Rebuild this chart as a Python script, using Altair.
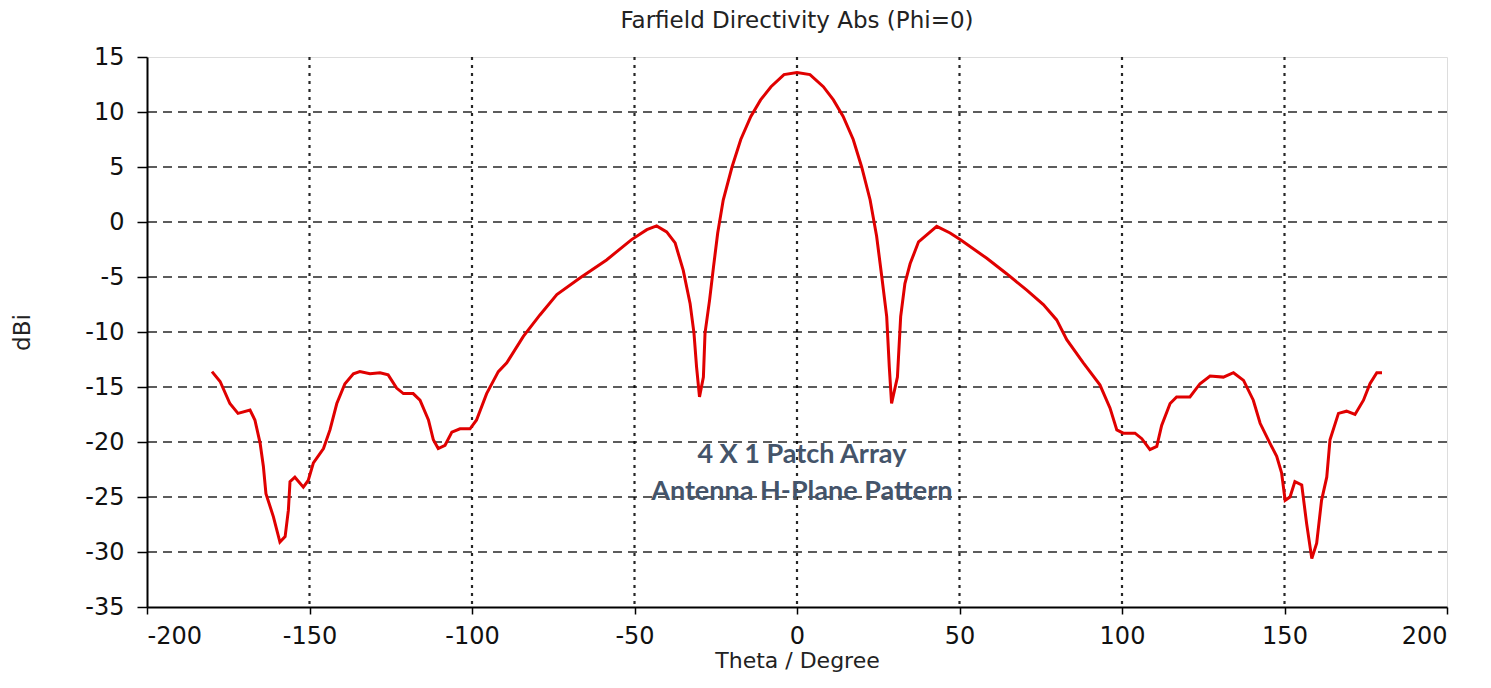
import altair as alt
import pandas as pd

theta = [-180, -177.5, -174.5, -172, -168.3, -166.8, -165.2, -164.2, -163.4, -161.1, -159.1, -157.5,
         -156.5, -156, -154.5, -151.9, -150.4, -148.8, -145.7, -143.7, -141.6, -139.1, -136.5, -134.5,
         -131.4, -128.3, -125.8, -123.2, -121.1, -118.1, -116, -113.4, -111.9, -110.4, -108.3, -106.2,
         -103.7, -100.6, -98.6, -95.5, -91.9, -89.3, -84.2, -79.1, -73.9, -66.8, -58.6, -50.9, -46.2,
         -43.2, -40.1, -37.5, -35, -32.9, -31.7, -30.9, -30, -28.8, -28.3, -26.9, -25.7, -24.4, -22.7,
         -20, -17.3, -14.2, -11.2, -8, -4, 0, 4, 8.1, 11.2, 14.2, 17.3, 19.9, 22.5, 24.5, 26.1, 27.6,
         28.4, 29.1, 30.9, 31.9, 33.2, 34.8, 37.4, 43, 47.1, 50.2, 58.4, 64.5, 70.7, 75.8, 79.9, 83,
         88.1, 93.2, 96.3, 98.4, 100.4, 104, 106.1, 108.6, 110.7, 112.2, 114.8, 116.8, 120.9, 124,
         127.1, 131.2, 134.3, 137.4, 140.4, 142.5, 145.5, 147.6, 149.1, 150.2, 151.7, 153.2, 155.3,
         156.8, 158.4, 159.9, 161.4, 163, 164, 166.6, 169.1, 171.7, 174.3, 176.3, 178.4, 180]
dbi = [-13.6, -14.5, -16.5, -17.4, -17.1, -18.0, -20.1, -22.2, -24.7, -26.8, -29.1, -28.6,
       -26.2, -23.6, -23.2, -24.1, -23.5, -21.9, -20.6, -18.9, -16.5, -14.7, -13.8, -13.6,
       -13.8, -13.7, -13.9, -15.1, -15.6, -15.6, -16.2, -18.0, -19.8, -20.6, -20.3, -19.1,
       -18.8, -18.8, -18.0, -15.6, -13.6, -12.8, -10.4, -8.45, -6.6, -5.1, -3.45, -1.6, -0.7,
       -0.36, -0.9, -1.9, -4.4, -7.4, -10.1, -13.2, -15.9, -14.1, -10.1, -7.1, -4.1, -1.0, 2.0,
       5.0, 7.5, 9.6, 11.1, 12.3, 13.4, 13.6, 13.4, 12.3, 11.1, 9.6, 7.5, 5.0, 2.0, -1.3, -5.0, -8.6,
       -13.2, -16.5, -14.1, -8.6, -5.6, -3.8, -1.8, -0.4, -1.0, -1.6, -3.3, -4.7, -6.2, -7.5, -8.9, -10.7,
       -12.8, -14.8, -16.9, -18.9, -19.2, -19.2, -19.7, -20.7, -20.4, -18.5, -16.5, -15.9, -15.9, -14.7,
       -14.0, -14.1, -13.7, -14.4, -16.2, -18.3, -20.1, -21.3, -22.8, -25.3, -25.0, -23.6, -23.9,
       -27.4, -30.6, -29.2, -25.3, -23.2, -19.8, -17.4, -17.2, -17.5, -16.2, -14.7, -13.7, -13.7]

note_lines = ["4 X 1 Patch Array", "Antenna H-Plane Pattern"]
note_theta = [1.5, 1.5]
note_dbi = [-21.2, -24.5]

x_ticks = [-200, -150, -100, -50, 0, 50, 100, 150, 200]
y_ticks = [15, 10, 5, 0, -5, -10, -15, -20, -25, -30, -35]

df = pd.DataFrame({"theta": theta, "dbi": dbi})
notes = pd.DataFrame({"theta": note_theta, "dbi": note_dbi, "txt": note_lines})

FONT = "DejaVu Sans"
xscale = alt.Scale(domain=[-200, 200], nice=False, zero=False)
yscale = alt.Scale(domain=[-35, 15], nice=False, zero=False)

xgrid = alt.Chart(pd.DataFrame({"v": x_ticks[1:-1]})).mark_rule(
    color="black", strokeDash=[3, 5], strokeWidth=2.2, opacity=0.85
).encode(x=alt.X("v:Q", scale=xscale))

ygrid = alt.Chart(pd.DataFrame({"v": y_ticks[1:-1]})).mark_rule(
    color="black", strokeDash=[9, 6], strokeWidth=1.7, opacity=0.85
).encode(y=alt.Y("v:Q", scale=yscale))

common = dict(grid=False, tickColor="black", tickWidth=1.5, domainColor="black", domainWidth=2,
              labelFont=FONT, labelFontSize=24, labelColor="#111111",
              labelExpr="datum.value + ''",
              titleFont=FONT, titleFontWeight="normal", titleColor="#222222")

line = alt.Chart(df).mark_line(color="#E00000", strokeWidth=3).encode(
    x=alt.X("theta:Q", scale=xscale, title="Theta / Degree",
            axis=alt.Axis(values=x_ticks, tickSize=7, labelPadding=10, titlePadding=2,
                          titleFontSize=22, **common)),
    y=alt.Y("dbi:Q", scale=yscale, title="dBi",
            axis=alt.Axis(values=y_ticks, tickSize=10, labelPadding=13, titlePadding=50,
                          titleFontSize=23, **common)),
)

text = alt.Chart(notes).mark_text(
    font="Lato", fontSize=27, fontWeight="bold", color="#44546A", align="center", baseline="middle"
).encode(x=alt.X("theta:Q", scale=xscale), y=alt.Y("dbi:Q", scale=yscale), text="txt:N")

chart = alt.layer(xgrid, ygrid, line, text).properties(
    width=1300, height=550,
    title=alt.TitleParams("Farfield Directivity Abs (Phi=0)", font=FONT, fontSize=23,
                          fontWeight="normal", color="#222222", offset=12),
    autosize=alt.AutoSizeParams(type="none"),
    padding={"left": 139, "top": 49, "right": 30, "bottom": 72},
).configure_view(stroke="black", strokeWidth=1.5).configure(background="white")

chart.save("out.html", embed_options={"renderer": "svg", "actions": False})
